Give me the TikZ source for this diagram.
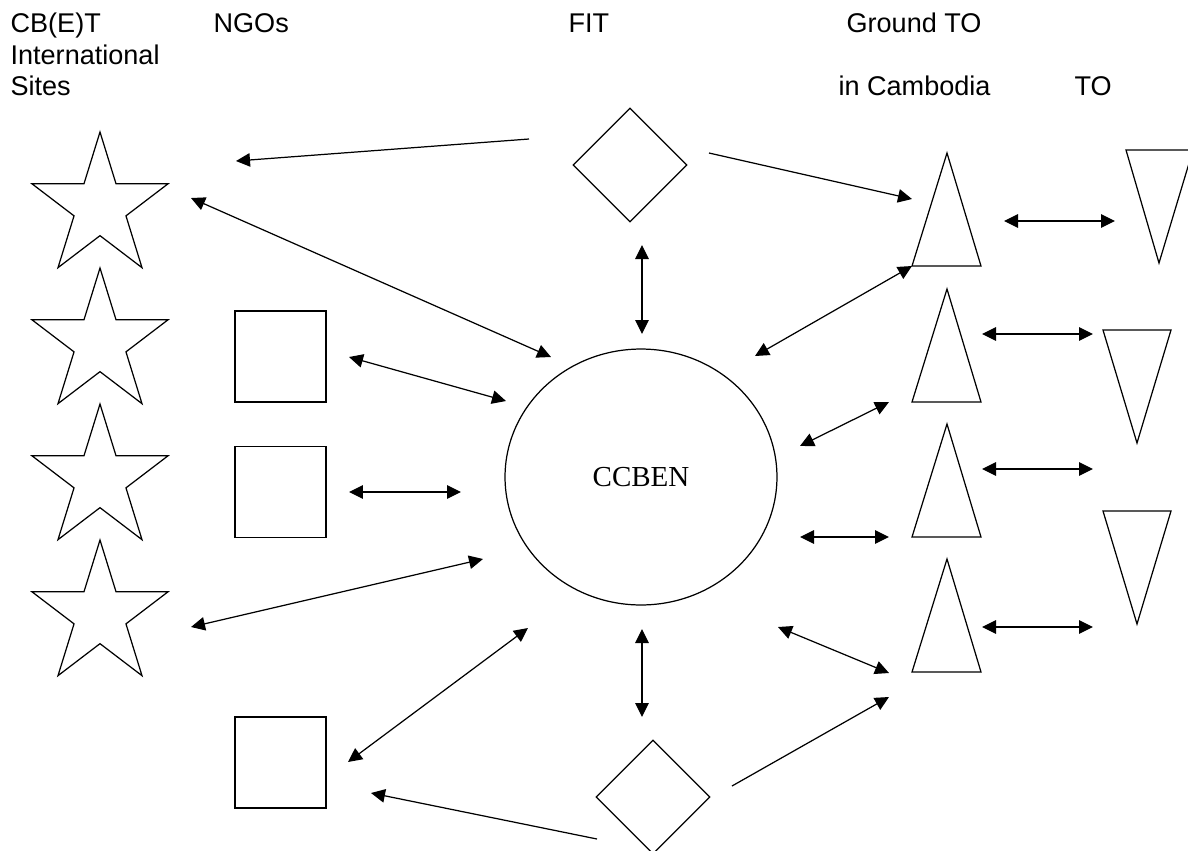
\documentclass[tikz,border=0pt]{standalone}
\usepackage{fontspec}
\setmainfont{Liberation Sans}
\newfontfamily\ccbenfont{Liberation Serif}
\usetikzlibrary{shapes.geometric,arrows.meta,positioning}

\tikzset{
  heading/.style={anchor=base west, inner sep=0pt, font=\fontsize{15.4}{17.6}\selectfont},
  sitestar/.style={draw, star, star points=5, star point ratio=2.618, minimum size=3cm, inner sep=0pt,
                   xscale=0.953, transform shape},
  ngobox/.style={draw, rectangle, minimum width=1.82cm, minimum height=1.82cm, inner sep=0pt},
  fitbox/.style={draw, diamond, minimum width=2.28cm, minimum height=2.28cm, inner sep=0pt},
  oneway/.style={-{Triangle[length=0.28cm,width=0.27cm]}},
  twoway/.style={{Triangle[length=0.28cm,width=0.27cm]}-{Triangle[length=0.28cm,width=0.27cm]}},
}

\begin{document}
\begin{tikzpicture}[x=0.02cm, y=-0.02cm, line width=0.7pt]
\useasboundingbox (0,0) rectangle (1188,850);

% column titles
\node[heading] (cbet)   at (10,32)   {CB(E)T};
\node[heading] (intl)   at (10,64)   {International};
\node[heading] (sites)  at (10,95)   {Sites};
\node[heading] (ngos)   at (213,32)  {NGOs};
\node[heading] (fitlbl) at (568,32)  {FIT};
\node[heading] (ground) at (846,32)  {Ground TO};
\node[heading] (incam)  at (838,95)  {in Cambodia};
\node[heading] (tolbl)  at (1074,95) {TO};

% shapes
\foreach \y [count=\i] in {207,343,479,615}
  \node[sitestar] (star\i) at (100,\y) {};
\node[ngobox] (ngo1) at (280.5,356.5) {};
\node[ngobox] (ngo2) at (280.5,492) {};
\node[ngobox] (ngo3) at (280.5,762.5) {};
\node[fitbox] (fit1) at (630,165) {};
\node[fitbox] (fit2) at (653,797) {};
\node[draw, ellipse, minimum width=5.44cm, minimum height=5.12cm, inner sep=0pt,
      font=\ccbenfont\fontsize{16.5}{18}\selectfont] (ccben) at (641,477) {CCBEN};
\foreach \y [count=\i] in {153,289,424,559}
  \draw (947,\y) -- (981,\y+113) -- (912,\y+113) -- cycle;
\draw (1126,150) -- (1193,150) -- (1159,263) -- cycle;
\draw (1103,330) -- (1171,330) -- (1137,443) -- cycle;
\draw (1103,511) -- (1171,511) -- (1137,624) -- cycle;

% arrow ends
\coordinate (f1-s) at (529,139);  \coordinate (s1-f) at (236,161);
\coordinate (f1-g) at (709,153);  \coordinate (g1-f) at (912,199);
\coordinate (s1-c) at (191,198);  \coordinate (c-s1) at (551,357);
\coordinate (f1-c) at (642,245);  \coordinate (c-f1) at (642,334);
\coordinate (g1-c) at (912,266);  \coordinate (c-g1) at (755,356);
\coordinate (n1-c) at (349,357);  \coordinate (c-n1) at (506,401);
\coordinate (n2-c) at (349,492);  \coordinate (c-n2) at (461,492);
\coordinate (s4-c) at (191,627);  \coordinate (c-s4) at (483,559);
\coordinate (n3-c) at (348,762);  \coordinate (c-n3) at (528,628);
\coordinate (c-f2) at (642,629);  \coordinate (f2-c) at (642,717);
\coordinate (c-g4) at (778,627);  \coordinate (g4-c) at (889,673);
\coordinate (c-g3) at (800,537);  \coordinate (g3-c) at (889,537);
\coordinate (c-g2) at (800,446);  \coordinate (g2-c) at (889,402);
\coordinate (f2-n) at (597,839);  \coordinate (n3-f) at (371,793);
\coordinate (f2-g) at (732,786);  \coordinate (g4-f) at (889,697);
\coordinate (g1-t) at (1004,221); \coordinate (t1-g) at (1115,221);
\coordinate (g2-t) at (982,334);  \coordinate (t2-g) at (1093,334);
\coordinate (g3-t) at (982,469);  \coordinate (t3-g) at (1093,469);
\coordinate (g4-t) at (982,627);  \coordinate (t4-g) at (1093,627);

% links
\draw[oneway] (f1-s) -- (s1-f);
\draw[oneway] (f1-g) -- (g1-f);
\draw[oneway] (f2-n) -- (n3-f);
\draw[oneway] (f2-g) -- (g4-f);
\foreach \a/\b in {s1-c/c-s1, f1-c/c-f1, g1-c/c-g1, n1-c/c-n1, n2-c/c-n2,
                   s4-c/c-s4, n3-c/c-n3, c-f2/f2-c, c-g4/g4-c, c-g3/g3-c,
                   c-g2/g2-c, g1-t/t1-g, g2-t/t2-g, g3-t/t3-g, g4-t/t4-g}
  \draw[twoway] (\a) -- (\b);
\end{tikzpicture}
\end{document}
